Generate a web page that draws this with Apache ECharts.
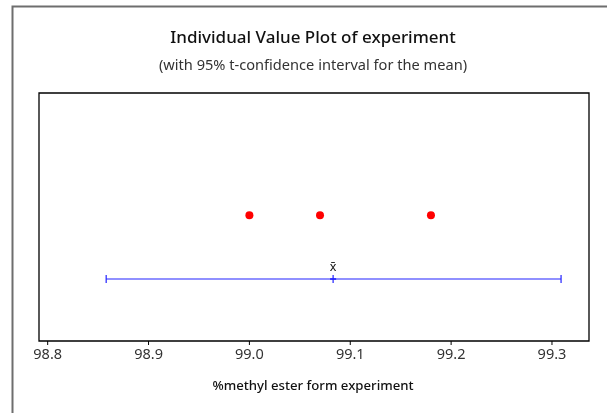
<!DOCTYPE html>
<html><head><meta charset="utf-8">
<script src="https://cdn.jsdelivr.net/npm/echarts@6/dist/echarts.min.js"></script>
<style>html,body{margin:0;padding:0;background:#fff}#c{width:607px;height:413px}</style>
</head><body><div id="c"></div>
<script>
const values = [99.00, 99.07, 99.18];
const ciLow = 98.858;
const ciHigh = 99.309;
const meanValue = 99.083;
const xTicks = [98.8, 98.9, 99.0, 99.1, 99.2, 99.3];
const dotRow = 2.03;
const ciRow = 1.0;

const chart = echarts.init(document.getElementById('c'));
chart.setOption({
  animation: false,
  backgroundColor: '#fff',
  graphic: [
    {type: 'rect', left: 10, top: 4, shape: {width: 700, height: 500}, style: {fill: null, stroke: '#6e6e6e', lineWidth: 2}, z: 0},
    {type: 'text', x: 313, y: 38, style: {text: 'Individual Value Plot of experiment', font: '500 17px "Noto Sans"', fill: '#111', align: 'center', verticalAlign: 'middle'}, z: 10},
    {type: 'text', x: 313, y: 66, style: {text: '(with 95% t-confidence interval for the mean)', font: '14.6px "Noto Sans"', fill: '#333', align: 'center', verticalAlign: 'middle'}, z: 10},
    {type: 'text', x: 313, y: 386, style: {text: '%methyl ester form experiment', font: '500 13.2px "Noto Sans"', fill: '#111', align: 'center', verticalAlign: 'middle'}, z: 10}
  ],
  grid: {left: 39, right: 18, top: 93, bottom: 72, show: true, borderColor: '#000', borderWidth: 1.3, backgroundColor: '#fff'},
  xAxis: {
    type: 'value', min: 98.7914, max: 99.3367,
    axisLine: {show: false},
    axisTick: {show: false},
    axisLabel: {show: false},
    splitLine: {show: false}
  },
  yAxis: {type: 'value', min: 0, max: 4, show: false},
  series: [
    {
      type: 'scatter', data: values.map(v => [v, dotRow]), symbol: 'circle', symbolSize: 8,
      itemStyle: {color: '#ff0000', opacity: 1}, z: 5
    },
    {
      type: 'custom', z: 4,
      data: [[ciLow, ciHigh, meanValue, ciRow]],
      renderItem: function (params, api) {
        const a = api.coord([api.value(0), api.value(3)]);
        const b = api.coord([api.value(1), api.value(3)]);
        const m = api.coord([api.value(2), api.value(3)]);
        const st = {stroke: '#2222ff', lineWidth: 1.2};
        return {type: 'group', children: [
          {type: 'line', shape: {x1: a[0], y1: a[1], x2: b[0], y2: b[1]}, style: st},
          {type: 'line', shape: {x1: a[0], y1: a[1]-4, x2: a[0], y2: a[1]+4}, style: st},
          {type: 'line', shape: {x1: b[0], y1: b[1]-4, x2: b[0], y2: b[1]+4}, style: st},
          {type: 'line', shape: {x1: m[0], y1: m[1]-4, x2: m[0], y2: m[1]+4}, style: st},
          {type: 'line', shape: {x1: m[0]-3, y1: m[1], x2: m[0]+3, y2: m[1]}, style: {stroke: '#2222ff', lineWidth: 1.6}},
          {type: 'text', x: m[0], y: m[1]-5, style: {text: 'x\u0304', font: '12.5px "Noto Sans"', fill: '#111', align: 'center', verticalAlign: 'bottom'}}
        ]};
      }
    },
    {
      type: 'custom', z: 6,
      data: xTicks.map(t => [t]),
      renderItem: function (params, api) {
        const p = api.coord([api.value(0), 0]);
        return {type: 'group', children: [
          {type: 'line', shape: {x1: p[0], y1: p[1], x2: p[0], y2: p[1]+4}, style: {stroke: '#000', lineWidth: 1}},
          {type: 'text', x: p[0], y: p[1]+14, style: {text: api.value(0).toFixed(1), font: '14.5px "Noto Sans"', fill: '#333', align: 'center', verticalAlign: 'middle'}}
        ]};
      }
    }
  ]
});
</script></body></html>
